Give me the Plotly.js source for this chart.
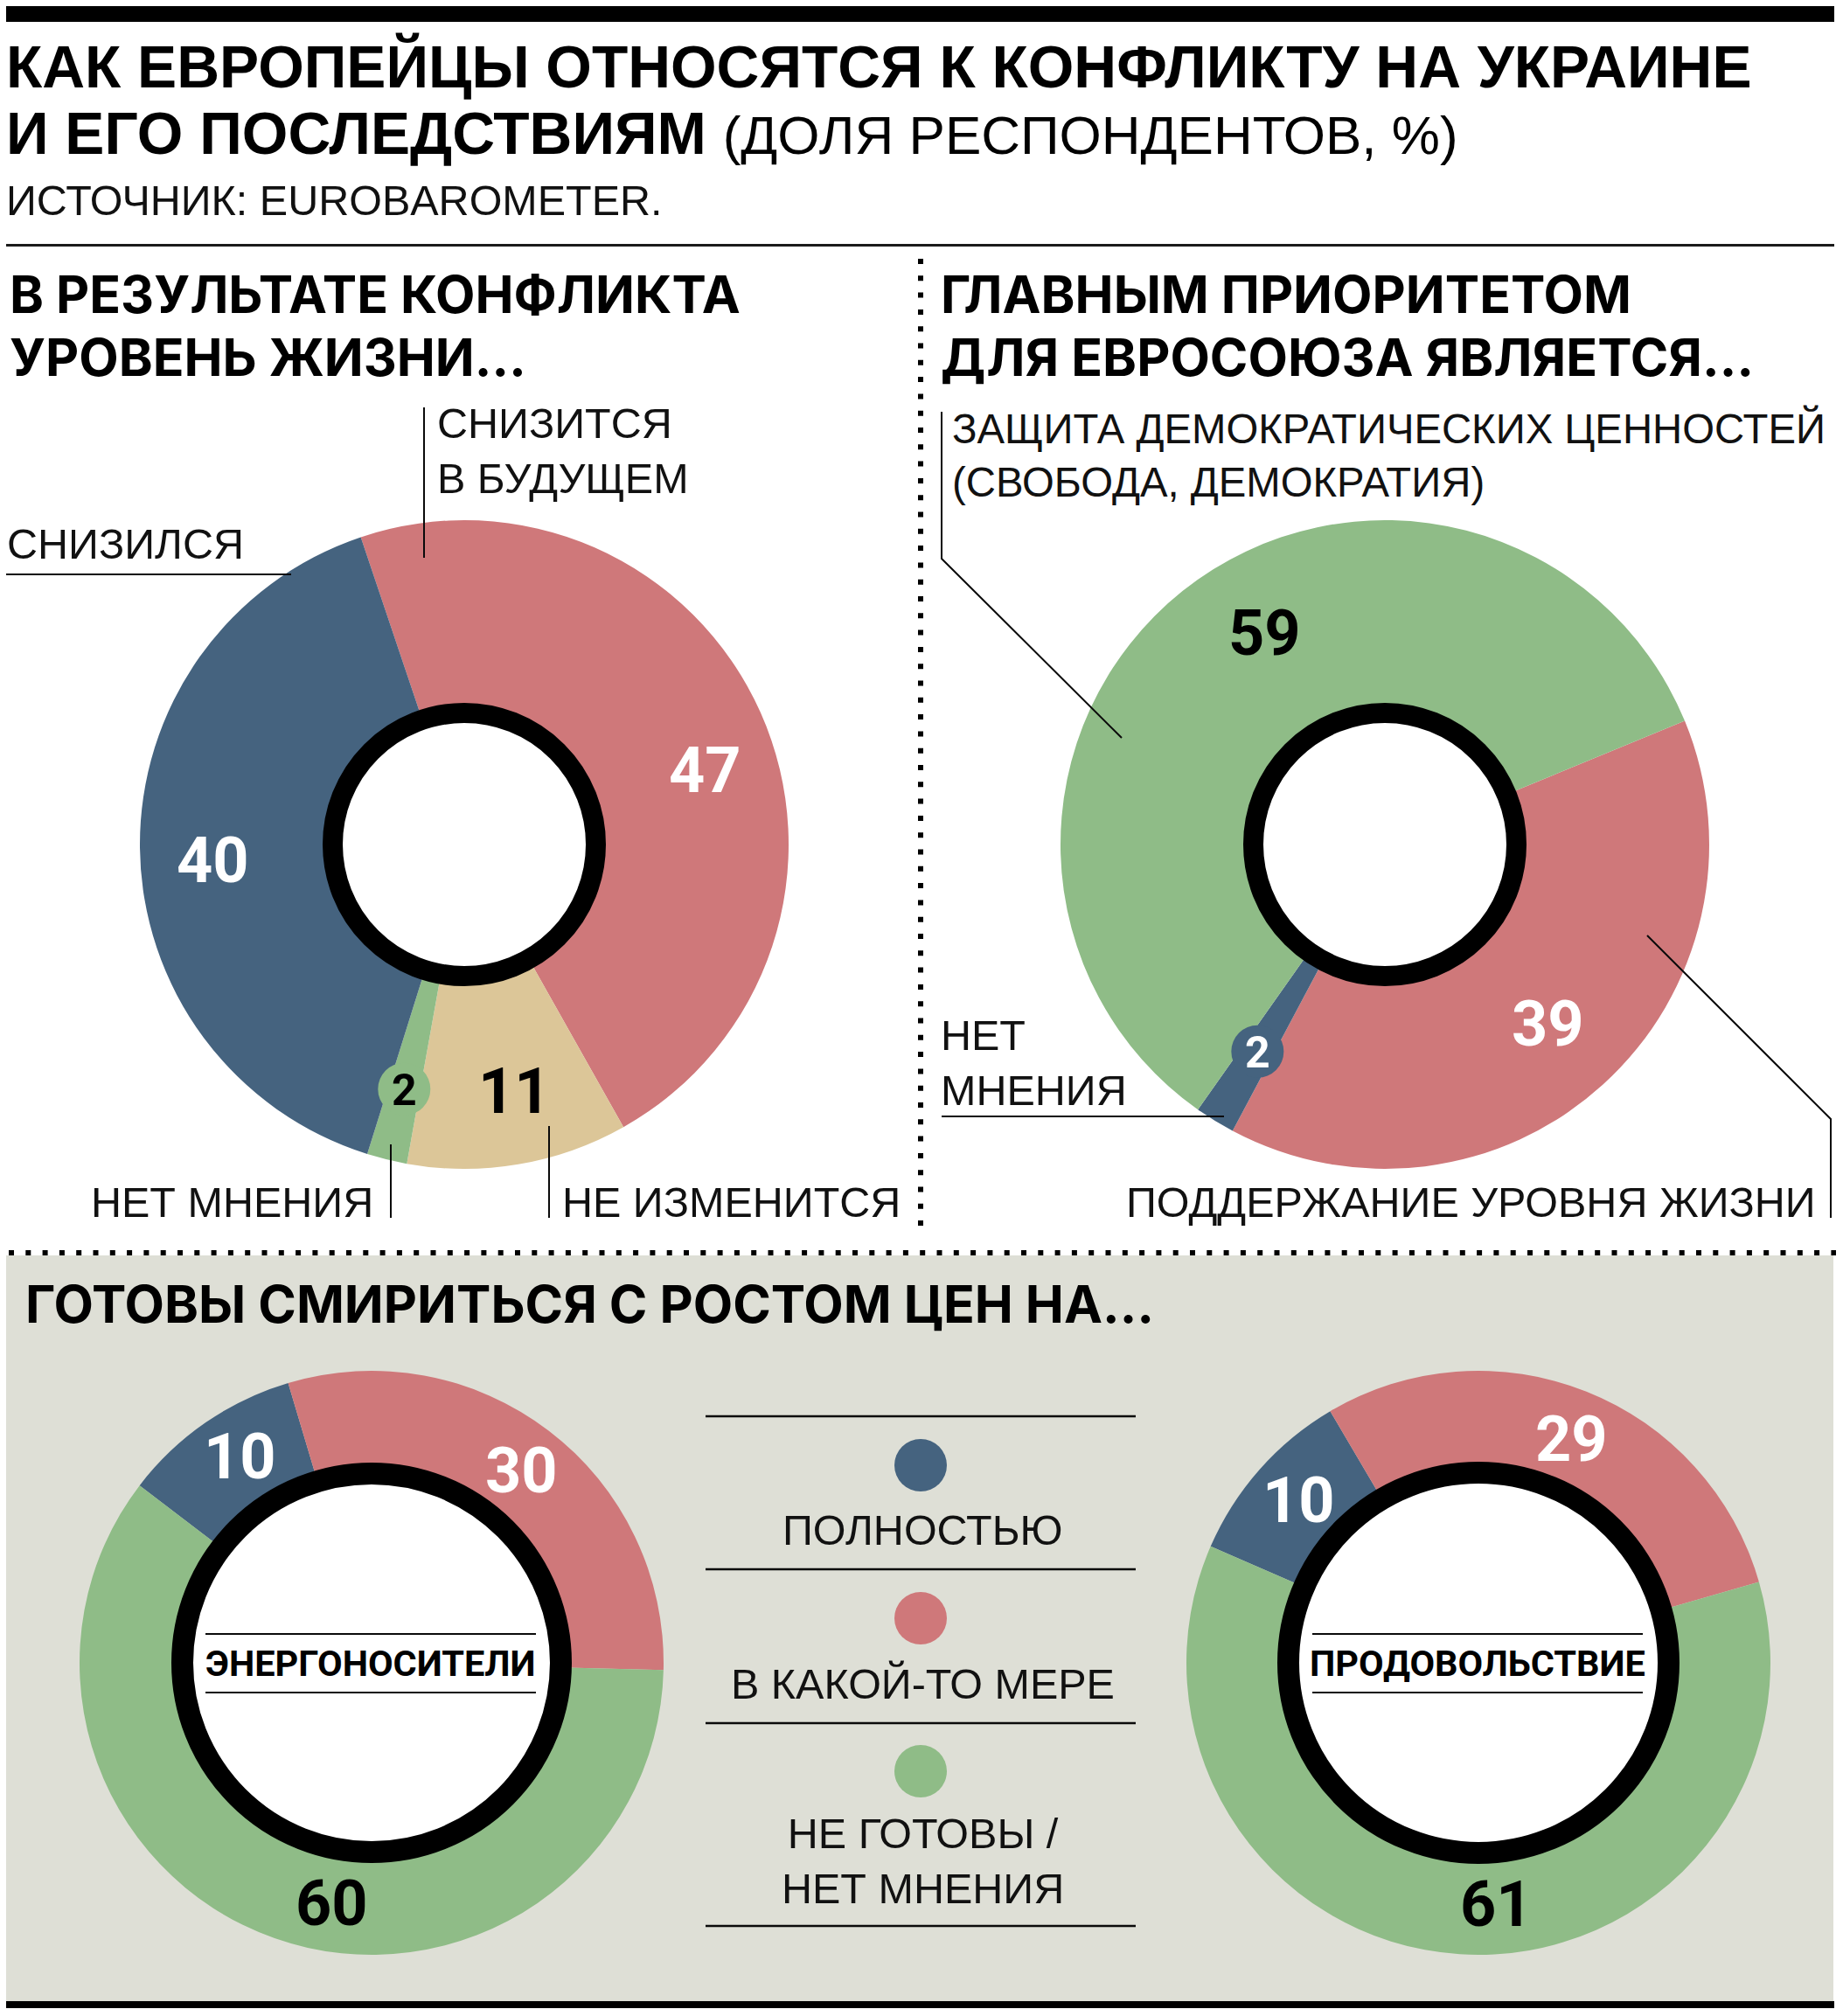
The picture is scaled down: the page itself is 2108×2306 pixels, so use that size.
<!DOCTYPE html>
<html>
<head>
<meta charset="utf-8">
<script src="https://cdn.plot.ly/plotly-3.0.1.min.js"></script>
<style>html,body{margin:0;padding:0;background:#fff}</style>
</head>
<body>
<div id="chart" style="width:2108px;height:2306px"></div>
<script>
// ---------------- DATA ----------------
// Panel 1: "В результате конфликта уровень жизни..."
const livingLabels = ['СНИЗИТСЯ<br>В БУДУЩЕМ', 'НЕ ИЗМЕНИТСЯ', 'НЕТ МНЕНИЯ', 'СНИЗИЛСЯ'];
const livingValues = [47, 11, 2, 40];

// Panel 2: "Главным приоритетом для Евросоюза является..."
const priorityLabels = ['ПОДДЕРЖАНИЕ УРОВНЯ ЖИЗНИ', 'НЕТ<br>МНЕНИЯ', 'ЗАЩИТА ДЕМОКРАТИЧЕСКИХ ЦЕННОСТЕЙ<br>(СВОБОДА, ДЕМОКРАТИЯ)'];
const priorityValues = [39, 2, 59];

// Panel 3: "Готовы смириться с ростом цен на..."
const priceLabels = ['ПОЛНОСТЬЮ', 'В КАКОЙ-ТО МЕРЕ', 'НЕ ГОТОВЫ /<br>НЕТ МНЕНИЯ'];
const goods = ['ЭНЕРГОНОСИТЕЛИ', 'ПРОДОВОЛЬСТВИЕ'];
const energyValues = [10, 30, 60];
const foodValues = [10, 29, 61];

// ---------------- STYLE ----------------
const W = 2108, H = 2306;
const BLUE = '#45637f', RED = '#cf787a', TAN = '#dcc698', GREEN = '#8fbc87';
const BG = '#dedfd6', INK = '#0a0a0a';
const F_MAIN = '"Liberation Sans", Arial, Helvetica, sans-serif';
const F_HEAD = 'Inter, Roboto, "Liberation Sans", sans-serif';
const F_NUM = 'Roboto, "Liberation Sans", Arial, sans-serif';
const F_LABEL = '"Liberation Sans", Arial, Helvetica, sans-serif';
const F_NARROW = 'Roboto, "Liberation Sans", sans-serif';

const X = p => p / W;
const Y = p => 1 - p / H;

const shapes = [];
const annotations = [];

function txt(text, x, y, font, opt) {
  annotations.push(Object.assign({
    text: text, x: X(x), y: Y(y), xref: 'paper', yref: 'paper',
    showarrow: false, xanchor: 'left', yanchor: 'middle', align: 'left',
    borderpad: 0, font: font
  }, opt || {}));
}
function rect(x0, y0, x1, y1, fill, layer) {
  shapes.push({type: 'rect', xref: 'paper', yref: 'paper', x0: X(x0), x1: X(x1), y0: Y(y1), y1: Y(y0),
    fillcolor: fill, line: {width: 0}, layer: layer || 'above'});
}
function line(x0, y0, x1, y1, w, color, dash) {
  shapes.push({type: 'line', xref: 'paper', yref: 'paper', x0: X(x0), y0: Y(y0), x1: X(x1), y1: Y(y1),
    line: {width: w, color: color || INK, dash: dash || 'solid'}, layer: 'above'});
}
function poly(pts, w, color) {
  const d = pts.map((p, i) => (i ? 'L' : 'M') + X(p[0]) + ',' + Y(p[1])).join(' ');
  shapes.push({type: 'path', xref: 'paper', yref: 'paper', path: d,
    line: {width: w, color: color || INK}, layer: 'above'});
}
function circle(cx, cy, r, fill, lw, lc) {
  shapes.push({type: 'circle', xref: 'paper', yref: 'paper', x0: X(cx - r), x1: X(cx + r), y0: Y(cy + r), y1: Y(cy - r),
    fillcolor: fill, line: {width: lw || 0, color: lc || fill}, layer: 'above'});
}

const traces = [];
// donut: values drawn by Plotly pie; value labels computed from the same values
function donut(values, labels, colors, cfg) {
  traces.push({
    type: 'pie', values: values, labels: labels.map(l => l.replace(/<br>/g, ' ')),
    sort: false, direction: 'clockwise', rotation: cfg.rotation, hole: 0.4,
    marker: {colors: colors, line: {width: 0}}, textinfo: 'none', hoverinfo: 'skip',
    showlegend: false,
    domain: {x: [X(cfg.cx - cfg.R), X(cfg.cx + cfg.R)], y: [Y(cfg.cy + cfg.R), Y(cfg.cy - cfg.R)]}
  });
  const rm = (cfg.ringIn + cfg.ringOut) / 2;
  circle(cfg.cx, cfg.cy, rm, '#ffffff', cfg.ringOut - cfg.ringIn, '#000000');
  const total = values.reduce((a, b) => a + b, 0);
  let acc = 0;
  values.forEach((v, i) => {
    const mid = cfg.rotation + (acc + v / 2) / total * 360 + (cfg.nudge ? cfg.nudge[i] : 0);
    acc += v;
    const a = mid * Math.PI / 180;
    const px = cfg.cx + cfg.rl * Math.sin(a);
    const py = cfg.cy - cfg.rl * Math.cos(a);
    const dark = (colors[i] === BLUE || colors[i] === RED);
    if (v / total < 0.05) {
      circle(px, py, 30, colors[i]);
      txt(String(v), px, py + 1, {family: F_NUM, size: 50, weight: 700, color: dark ? '#fff' : '#000'}, {xanchor: 'center'});
    } else {
      txt(String(v), px, py, {family: F_NUM, size: 72, weight: 700, color: dark ? '#fff' : '#000'}, {xanchor: 'center'});
    }
  });
}

// ---------- background & rules ----------
rect(7, 1436, 2097, 2289, BG, 'below');
rect(7, 7, 2098, 25, '#000');
line(7, 280.5, 2098, 280.5, 3, '#1a1a1a');
line(1053, 296, 1053, 1414, 6, '#000', '6px,13.3px');
line(10, 1433, 2100, 1433, 6, '#000', '6px,13.3px');
rect(7, 2289, 2098, 2297, '#000');

// ---------- titles ----------
txt('<b>КАК ЕВРОПЕЙЦЫ ОТНОСЯТСЯ К КОНФЛИКТУ НА УКРАИНЕ</b>', 6, 75, {family: F_MAIN, size: 67.6, color: '#000'});
txt('<b>И ЕГО ПОСЛЕДСТВИЯМ</b> <span style="font-size:62px">(ДОЛЯ РЕСПОНДЕНТОВ, %)</span>', 6, 153, {family: F_MAIN, size: 67.6, color: '#000'});
txt('ИСТОЧНИК: EUROBAROMETER.', 6, 229, {family: F_MAIN, size: 48.5, color: '#111'});

const headFont = {family: F_HEAD, size: 59, weight: 700, color: '#000'};
txt('В РЕЗУЛЬТАТЕ КОНФЛИКТА', 10, 337, headFont);
txt('УРОВЕНЬ ЖИЗНИ…', 10, 408, headFont);
txt('ГЛАВНЫМ ПРИОРИТЕТОМ', 1075, 337, headFont);
txt('ДЛЯ ЕВРОСОЮЗА ЯВЛЯЕТСЯ…', 1075, 408, headFont);
txt('ГОТОВЫ СМИРИТЬСЯ С РОСТОМ ЦЕН НА…', 28, 1492, headFont);

// ---------- donuts ----------
donut(livingValues, livingLabels, [RED, TAN, GREEN, BLUE],
  {cx: 531, cy: 966, R: 371, ringIn: 139, ringOut: 162, rotation: -18.6, rl: 288, nudge: [7, -2, 0, -3]});
donut(priorityValues, priorityLabels, [RED, BLUE, GREEN],
  {cx: 1584, cy: 966, R: 371, ringIn: 139, ringOut: 162, rotation: 67.6, rl: 278, nudge: [0, 0, 9]});
donut(energyValues, priceLabels, [BLUE, RED, GREEN],
  {cx: 425, cy: 1902, R: 334, ringIn: 204, ringOut: 229, rotation: -52.6, rl: 279, nudge: [2, 0.6, -10]});
donut(foodValues, priceLabels, [BLUE, RED, GREEN],
  {cx: 1691, cy: 1902, R: 334, ringIn: 205, ringOut: 230, rotation: -66.5, rl: 277, nudge: [0.5, 1, -8]});

// ---------- category labels & leaders (panel 1) ----------
const labFont = {family: F_LABEL, size: 48.5, color: '#111'};
txt(livingLabels[0], 499, 515.5, labFont);
line(485, 466, 485, 638, 2);
txt(livingLabels[3], 7, 622, labFont);
line(7, 657, 333, 657, 2);
txt(livingLabels[2], 428, 1375, labFont, {xanchor: 'right'});
line(447, 1309, 447, 1393, 2);
txt(livingLabels[1], 642, 1375, labFont);
line(628, 1288, 628, 1393, 2);

// ---------- panel 2 ----------
txt(priorityLabels[2], 1088, 521, {family: F_LABEL, size: 47.3, color: '#111'});
poly([[1077, 471], [1077, 639], [1283, 844]], 2);
txt(priorityLabels[1], 1075, 1215, labFont);
line(1077, 1277, 1400, 1277, 2);
txt(priorityLabels[0], 2078, 1375, labFont, {xanchor: 'right'});
poly([[2094, 1393], [2094, 1280], [1884, 1070]], 2);

// ---------- centre captions of bottom donuts ----------
const narrowFont = {family: F_NARROW, size: 41.5, weight: 700, color: '#000'};
[[425, goods[0]], [1691, goods[1]]].forEach(([cx, name]) => {
  line(cx - 190, 1869, cx + 188, 1869, 2);
  line(cx - 190, 1936, cx + 188, 1936, 2);
  txt(name, cx - 1, 1902, narrowFont, {xanchor: 'center'});
});

// ---------- legend ----------
[1620, 1795, 1971, 2203].forEach(y => line(807, y, 1299, y, 2.5));
const legColors = [BLUE, RED, GREEN];
const legDotY = [1676, 1851, 2026];
const legTextY = [1750, 1926, 2128];
priceLabels.forEach((lab, i) => {
  circle(1053, legDotY[i], 30, legColors[i]);
  txt(lab, 1055, legTextY[i], labFont, {xanchor: 'center', align: 'center'});
});

const layout = {
  width: W, height: H,
  margin: {l: 0, r: 0, t: 0, b: 0, pad: 0},
  paper_bgcolor: '#ffffff', plot_bgcolor: 'rgba(0,0,0,0)',
  showlegend: false,
  shapes: shapes, annotations: annotations
};
Plotly.newPlot('chart', traces, layout, {staticPlot: true, displayModeBar: false});
</script>
</body>
</html>
